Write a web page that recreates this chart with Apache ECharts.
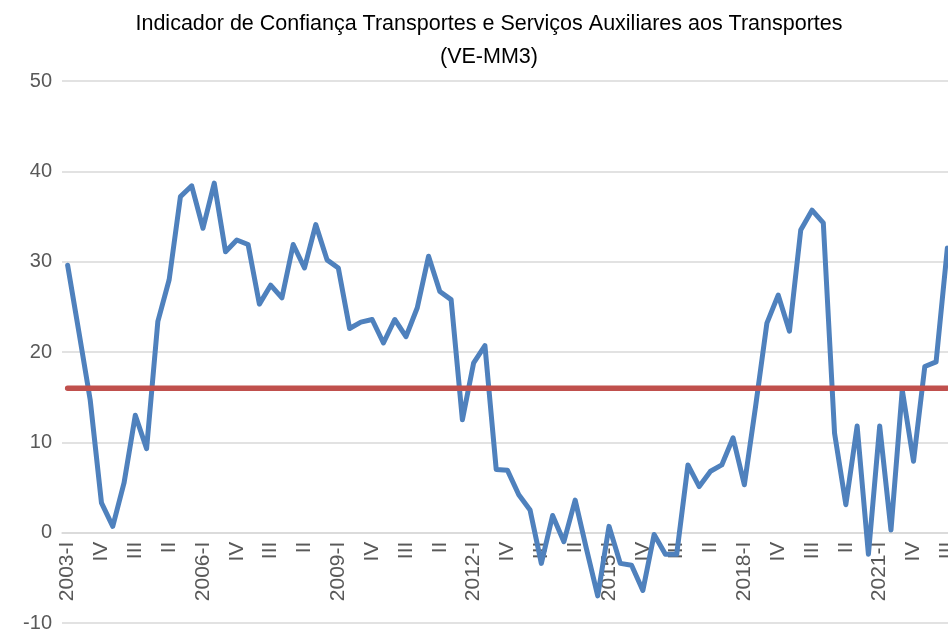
<!DOCTYPE html>
<html>
<head>
<meta charset="utf-8">
<script src="https://cdn.jsdelivr.net/npm/echarts@6/dist/echarts.min.js"></script>
<style>
  html, body { margin: 0; padding: 0; background: #fff; }
  #chart { width: 948px; height: 632px; }
</style>
</head>
<body>
<div id="chart"></div>
<script>
// trimestres 2003-I .. 2022-III
var quarters = [
  '2003-I', 'II', 'III', 'IV', '2004-I', 'II', 'III', 'IV',
  '2005-I', 'II', 'III', 'IV', '2006-I', 'II', 'III', 'IV',
  '2007-I', 'II', 'III', 'IV', '2008-I', 'II', 'III', 'IV',
  '2009-I', 'II', 'III', 'IV', '2010-I', 'II', 'III', 'IV',
  '2011-I', 'II', 'III', 'IV', '2012-I', 'II', 'III', 'IV',
  '2013-I', 'II', 'III', 'IV', '2014-I', 'II', 'III', 'IV',
  '2015-I', 'II', 'III', 'IV', '2016-I', 'II', 'III', 'IV',
  '2017-I', 'II', 'III', 'IV', '2018-I', 'II', 'III', 'IV',
  '2019-I', 'II', 'III', 'IV', '2020-I', 'II', 'III', 'IV',
  '2021-I', 'II', 'III', 'IV', '2022-I', 'II', 'III'
];

// indicador VE-MM3
var indicador = [
  29.6, 22.2, 14.7, 3.3, 0.7, 5.5, 13.0, 9.3,
  23.4, 28.0, 37.2, 38.4, 33.7, 38.7, 31.1, 32.4,
  31.9, 25.3, 27.4, 26.0, 31.9, 29.3, 34.1, 30.2,
  29.3, 22.6, 23.3, 23.6, 21.0, 23.6, 21.7, 24.9,
  30.6, 26.7, 25.8, 12.5, 18.8, 20.7, 7.0, 6.9,
  4.2, 2.5, -3.4, 1.9, -1.0, 3.6, -1.8, -7.0,
  0.7, -3.4, -3.6, -6.4, -0.2, -2.4, -2.4, 7.5,
  5.1, 6.8, 7.5, 10.5, 5.3, 14.0, 23.2, 26.3,
  22.3, 33.5, 35.7, 34.3, 11.0, 3.1, 11.8, -2.4,
  11.8, 0.3, 15.8, 7.9, 18.4, 18.9, 31.5
];

// média do período
var media = quarters.map(function () { return 16.0; });

var yTicks = { min: -10, max: 50, step: 10 };

var gridTop = 81, gridBottom = 9, chartH = 632;
// the category axis sits on the zero line, labels included
var zeroOffset = (chartH - gridTop - gridBottom) * (0 - yTicks.min) / (yTicks.max - yTicks.min);

var chart = echarts.init(document.getElementById('chart'));

chart.setOption({
  animation: false,
  backgroundColor: '#ffffff',
  title: {
    text: 'Indicador de Confiança Transportes e Serviços Auxiliares aos Transportes\n(VE-MM3)',
    left: 484,
    top: 3,
    textAlign: 'center',
    textStyle: {
      fontFamily: 'Liberation Sans, sans-serif',
      fontSize: 21.5,
      fontWeight: 'normal',
      color: '#000000',
      lineHeight: 33
    }
  },
  grid: {
    left: 62,
    right: -5,
    top: gridTop,
    bottom: gridBottom,
    containLabel: false,
    outerBoundsMode: 'none'
  },
  xAxis: {
    type: 'category',
    data: quarters,
    boundaryGap: true,
    offset: -zeroOffset,
    axisLine: { onZero: false, lineStyle: { color: '#d9d9d9', width: 1.5 } },
    axisTick: { show: false },
    axisLabel: {
      interval: 2,
      rotate: 90,
      margin: 9,
      color: '#595959',
      fontSize: 21,
      fontFamily: 'Liberation Sans, sans-serif'
    },
    splitLine: { show: false }
  },
  yAxis: {
    type: 'value',
    min: yTicks.min,
    max: yTicks.max,
    interval: yTicks.step,
    axisLine: { show: false },
    axisTick: { show: false },
    axisLabel: {
      margin: 10,
      color: '#595959',
      fontSize: 20,
      fontFamily: 'Liberation Sans, sans-serif'
    },
    splitLine: { lineStyle: { color: '#d9d9d9', width: 1.5 } }
  },
  series: [
    {
      type: 'line',
      data: indicador,
      symbol: 'none',
      lineStyle: { color: '#4f81bd', width: 5, cap: 'round', join: 'round' },
      z: 3
    },
    {
      type: 'line',
      data: media,
      symbol: 'none',
      lineStyle: { color: '#c0504d', width: 5.5, cap: 'round' },
      z: 4
    }
  ]
});
</script>
</body>
</html>
